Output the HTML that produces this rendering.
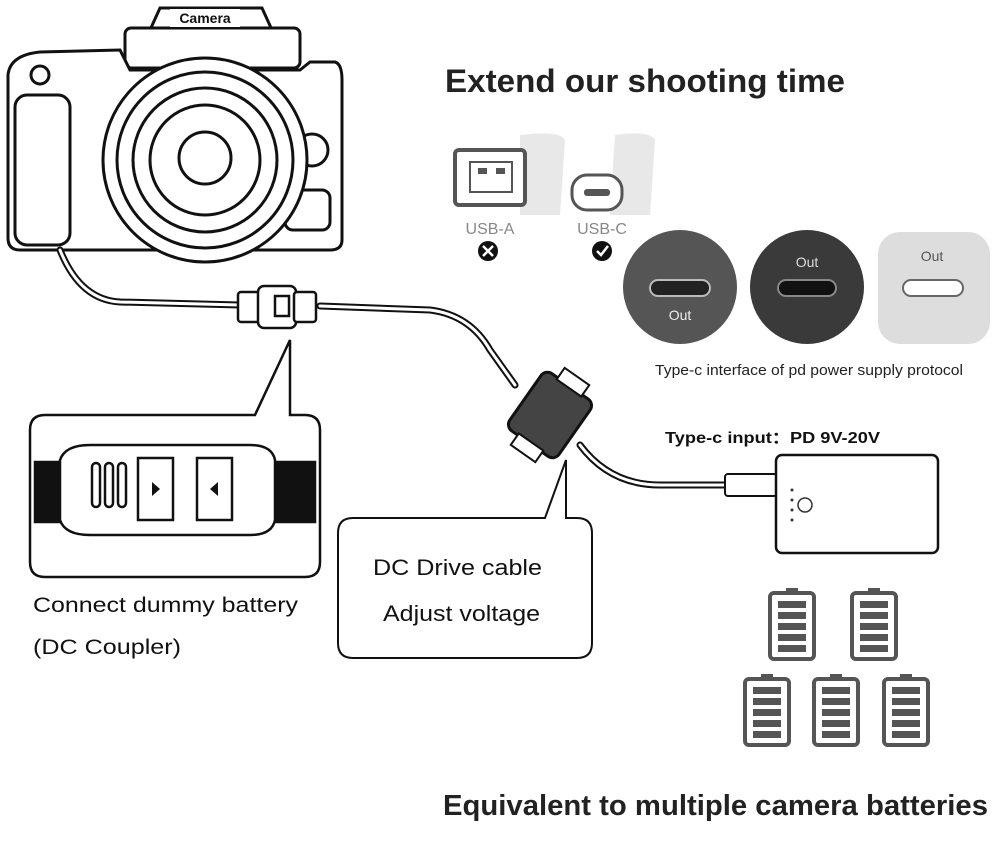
<!DOCTYPE html>
<html><head><meta charset="utf-8"><style>
html,body{margin:0;padding:0;background:#fff;}
svg{display:block;font-family:"Liberation Sans",Arial,sans-serif;}
</style></head><body>
<svg width="993" height="842" viewBox="0 0 993 842" xmlns="http://www.w3.org/2000/svg">
<rect width="993" height="842" fill="#fff"/>
<!-- Camera -->
<g fill="#fff" stroke="#111" stroke-width="3">
<path d="M150 30 L160 8 L262 8 L272 30 Z"/>
<rect x="125" y="28" width="175" height="40" rx="6"/>
<path d="M8 75 Q10 55 40 52 L120 50 L130 70 L300 70 L310 62 L335 62 Q342 64 342 80 L342 240 Q342 250 330 250 L20 250 Q8 250 8 238 Z"/>
<rect x="15" y="95" width="55" height="150" rx="12"/>
<rect x="285" y="190" width="45" height="40" rx="8"/>
<circle cx="312" cy="150" r="16"/>
<circle cx="205" cy="160" r="102"/>
<circle cx="205" cy="160" r="88"/>
<circle cx="205" cy="160" r="72"/>
<circle cx="205" cy="160" r="55"/>
<circle cx="205" cy="158" r="26"/>
<circle cx="40" cy="75" r="9"/>
</g>
<rect x="170" y="9" width="70" height="18" fill="#fff"/>
<text x="205" y="23" font-size="14" font-weight="bold" text-anchor="middle" fill="#111">Camera</text>
<!-- Cables -->
<g fill="none" stroke="#111" stroke-width="7" stroke-linecap="round">
<path d="M60 250 Q80 300 120 302 L240 305"/>
<path d="M320 306 L430 310 Q470 315 490 350 L515 385"/>
<path d="M580 445 Q610 485 660 485 L725 485"/>
</g>
<g fill="none" stroke="#fff" stroke-width="3" stroke-linecap="round">
<path d="M60 250 Q80 300 120 302 L240 305"/>
<path d="M320 306 L430 310 Q470 315 490 350 L515 385"/>
<path d="M580 445 Q610 485 660 485 L725 485"/>
</g>
<g fill="#fff" stroke="#111" stroke-width="2.5">
<rect x="238" y="292" width="22" height="30" rx="3"/>
<rect x="258" y="286" width="38" height="42" rx="6"/>
<rect x="294" y="292" width="22" height="30" rx="3"/>
<rect x="275" y="296" width="14" height="20"/>
</g>
<g transform="rotate(35 550 415)">
<rect x="520" y="380" width="60" height="70" rx="8" fill="#444" stroke="#111" stroke-width="3"/>
<rect x="535" y="368" width="30" height="14" fill="#fff" stroke="#111" stroke-width="2"/>
<rect x="535" y="448" width="30" height="14" fill="#fff" stroke="#111" stroke-width="2"/>
</g>
<path d="M30 430 Q30 415 45 415 L255 415 L290 340 L290 415 L305 415 Q320 415 320 430 L320 562 Q320 577 305 577 L45 577 Q30 577 30 562 Z" fill="#fff" stroke="#111" stroke-width="2.5"/>
<g fill="#fff" stroke="#111" stroke-width="2.5">
<rect x="35" y="462" width="40" height="60" fill="#111"/>
<rect x="270" y="462" width="45" height="60" fill="#111"/>
<path d="M60 460 Q65 445 90 445 L250 445 Q272 445 275 460 L275 520 Q272 535 250 535 L90 535 Q65 535 60 520 Z"/>
<rect x="92" y="463" width="8" height="44" rx="4"/><rect x="105" y="463" width="8" height="44" rx="4"/><rect x="118" y="463" width="8" height="44" rx="4"/>
<rect x="138" y="458" width="35" height="62"/>
<rect x="197" y="458" width="35" height="62"/>
</g>
<path d="M152 482 L160 489 L152 496 Z M218 482 L210 489 L218 496 Z" fill="#111"/>
<text x="33" y="612" font-size="21" fill="#111" textLength="265" lengthAdjust="spacingAndGlyphs">Connect dummy battery</text>
<text x="33" y="654" font-size="21" fill="#111" textLength="148" lengthAdjust="spacingAndGlyphs">(DC Coupler)</text>
<path d="M338 533 Q338 518 353 518 L545 518 L566 460 L566 518 L577 518 Q592 518 592 533 L592 643 Q592 658 577 658 L353 658 Q338 658 338 643 Z" fill="#fff" stroke="#111" stroke-width="2"/>
<text x="373" y="575" font-size="22" fill="#111" textLength="169" lengthAdjust="spacingAndGlyphs">DC Drive cable</text>
<text x="383" y="621" font-size="22" fill="#111" textLength="157" lengthAdjust="spacingAndGlyphs">Adjust voltage</text>
<text x="445" y="92" font-size="32" font-weight="bold" fill="#222" textLength="400" lengthAdjust="spacingAndGlyphs">Extend our shooting time</text>
<g>
<path d="M520 135 Q560 130 565 140 L560 215 L520 215 Z" fill="#e8e8e8"/>
<rect x="455" y="150" width="70" height="55" rx="4" fill="#fff" stroke="#555" stroke-width="4"/>
<rect x="470" y="162" width="42" height="30" fill="#fff" stroke="#555" stroke-width="2"/>
<rect x="478" y="168" width="9" height="6" fill="#555"/><rect x="496" y="168" width="9" height="6" fill="#555"/>
<path d="M615 135 Q650 130 655 140 L650 215 L610 215 Z" fill="#e8e8e8"/>
<rect x="572" y="175" width="50" height="35" rx="15" fill="#fff" stroke="#555" stroke-width="3"/>
<rect x="584" y="189" width="26" height="7" rx="3" fill="#555"/>
</g>
<text x="490" y="234" font-size="16" fill="#888" text-anchor="middle">USB-A</text>
<text x="602" y="234" font-size="16" fill="#888" text-anchor="middle">USB-C</text>
<circle cx="488" cy="251" r="10" fill="#111"/>
<path d="M483 246 L493 256 M493 246 L483 256" stroke="#fff" stroke-width="2.5"/>
<circle cx="602" cy="251" r="10" fill="#111"/>
<path d="M597 251 L601 255 L608 246" stroke="#fff" stroke-width="2.5" fill="none"/>
<circle cx="680" cy="287" r="57" fill="#555"/>
<rect x="650" y="280" width="60" height="16" rx="8" fill="#222" stroke="#bbb" stroke-width="2"/>
<text x="680" y="320" font-size="14" fill="#eee" text-anchor="middle">Out</text>
<circle cx="807" cy="287" r="57" fill="#3a3a3a"/>
<text x="807" y="267" font-size="14" fill="#ddd" text-anchor="middle">Out</text>
<rect x="778" y="280" width="58" height="16" rx="8" fill="#111" stroke="#888" stroke-width="2"/>
<rect x="878" y="232" width="112" height="112" rx="22" fill="#ddd"/>
<text x="932" y="261" font-size="14" fill="#555" text-anchor="middle">Out</text>
<rect x="903" y="280" width="60" height="16" rx="8" fill="#fff" stroke="#666" stroke-width="2"/>
<text x="655" y="375" font-size="15" fill="#222" textLength="308" lengthAdjust="spacingAndGlyphs">Type-c interface of pd power supply protocol</text>
<text x="665" y="443" font-size="16" font-weight="bold" fill="#111" textLength="215" lengthAdjust="spacingAndGlyphs">Type-c input：PD 9V-20V</text>
<rect x="725" y="474" width="52" height="22" rx="3" fill="#fff" stroke="#111" stroke-width="2"/>
<rect x="776" y="455" width="162" height="98" rx="6" fill="#fff" stroke="#111" stroke-width="2.5"/>
<circle cx="805" cy="505" r="7" fill="none" stroke="#333" stroke-width="1.5"/>
<g fill="#333"><circle cx="792" cy="490" r="1.5"/><circle cx="792" cy="500" r="1.5"/><circle cx="792" cy="510" r="1.5"/><circle cx="792" cy="520" r="1.5"/></g>
<defs>
<g id="bat">
<rect x="-6" y="0" width="12" height="6" fill="#555"/>
<rect x="-22" y="5" width="44" height="66" rx="4" fill="#fff" stroke="#555" stroke-width="4"/>
<rect x="-14" y="13" width="28" height="7" fill="#555"/>
<rect x="-14" y="24" width="28" height="7" fill="#555"/>
<rect x="-14" y="35" width="28" height="7" fill="#555"/>
<rect x="-14" y="46" width="28" height="7" fill="#555"/>
<rect x="-14" y="57" width="28" height="7" fill="#555"/>
</g>
</defs>
<use href="#bat" x="792" y="588"/>
<use href="#bat" x="874" y="588"/>
<use href="#bat" x="767" y="674"/>
<use href="#bat" x="836" y="674"/>
<use href="#bat" x="906" y="674"/>
<text x="443" y="815" font-size="29" font-weight="bold" fill="#222" textLength="545" lengthAdjust="spacingAndGlyphs">Equivalent to multiple camera batteries</text>
</svg>
</body></html>
